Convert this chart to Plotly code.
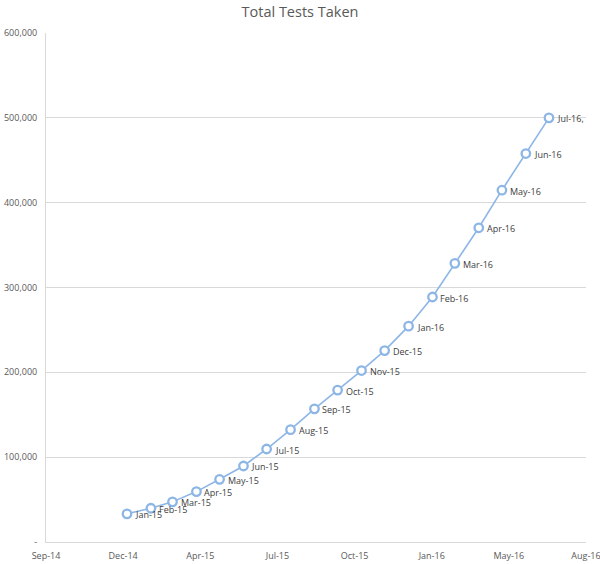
import plotly.graph_objects as go

months = ["2015-01-01", "2015-02-01", "2015-03-01", "2015-04-01", "2015-05-01", "2015-06-01",
          "2015-07-01", "2015-08-01", "2015-09-01", "2015-10-01", "2015-11-01", "2015-12-01",
          "2016-01-01", "2016-02-01", "2016-03-01", "2016-04-01", "2016-05-01", "2016-06-01",
          "2016-07-01"]
point_labels = ["Jan-15", "Feb-15", "Mar-15", "Apr-15", "May-15", "Jun-15", "Jul-15", "Aug-15",
                "Sep-15", "Oct-15", "Nov-15", "Dec-15", "Jan-16", "Feb-16", "Mar-16", "Apr-16",
                "May-16", "Jun-16", "Jul-16,"]
tests = [33200, 39800, 47300, 59400, 73900, 89600, 109600, 132400, 157000, 179100, 202100,
         225600, 254400, 288800, 328500, 370400, 414700, 457900, 500000]

x_tickvals = ["2014-09-18", "2014-12-27", "2015-04-06", "2015-07-15", "2015-10-23",
              "2016-01-31", "2016-05-10", "2016-08-18"]
x_ticktext = ["Sep-14", "Dec-14", "Apr-15", "Jul-15", "Oct-15", "Jan-16", "May-16", "Aug-16"]
y_tickvals = [0, 100000, 200000, 300000, 400000, 500000, 600000]
y_ticktext = ["-", "100,000", "200,000", "300,000", "400,000", "500,000", "600,000"]

LINE = "#8DB6E6"
GRID = "#D9D9D9"
TXT = "#595959"
FONT = "Open Sans"

fig = go.Figure()
fig.add_trace(go.Scatter(
    x=months, y=tests, mode="lines+markers",
    line=dict(color=LINE, width=1.6),
    marker=dict(symbol="circle", size=8.5, color="white", line=dict(color=LINE, width=2.3)),
    cliponaxis=False, showlegend=False, hoverinfo="skip",
))

for m, v, lab in zip(months, tests, point_labels):
    fig.add_annotation(x=m, y=v, text=lab, showarrow=False, xanchor="left", yanchor="middle",
                       xshift=6, yshift=-1,
                       font=dict(family=FONT, size=9, color="#404040"))

fig.update_layout(
    width=600, height=564,
    margin=dict(l=46, r=14, t=33, b=22, autoexpand=False),
    paper_bgcolor="white", plot_bgcolor="white",
    title=dict(text="Total Tests Taken", x=0.5, xanchor="center", y=0.988, yanchor="top",
               font=dict(family=FONT, size=14.5, color=TXT)),
    xaxis=dict(type="date", range=["2014-09-18", "2016-08-18 00:00:01"],
               tickvals=x_tickvals, ticktext=x_ticktext, automargin=False,
               ticklabeloverflow="allow", ticklabelstandoff=5,
               showgrid=False, zeroline=False,
               showline=True, linecolor=GRID, linewidth=1,
               ticks="", tickfont=dict(family=FONT, size=9, color=TXT)),
    yaxis=dict(range=[0, 600000], tickvals=y_tickvals, ticktext=y_ticktext, automargin=False,
               showgrid=True, gridcolor=GRID, gridwidth=1, zeroline=False,
               showline=True, linecolor=GRID, linewidth=1,
               ticks="", ticklabelstandoff=6,
               tickfont=dict(family=FONT, size=9, color=TXT)),
    font=dict(family=FONT),
)

fig.write_html("out.html", config={"displayModeBar": False},
               post_script="document.body.style.margin='0';")
